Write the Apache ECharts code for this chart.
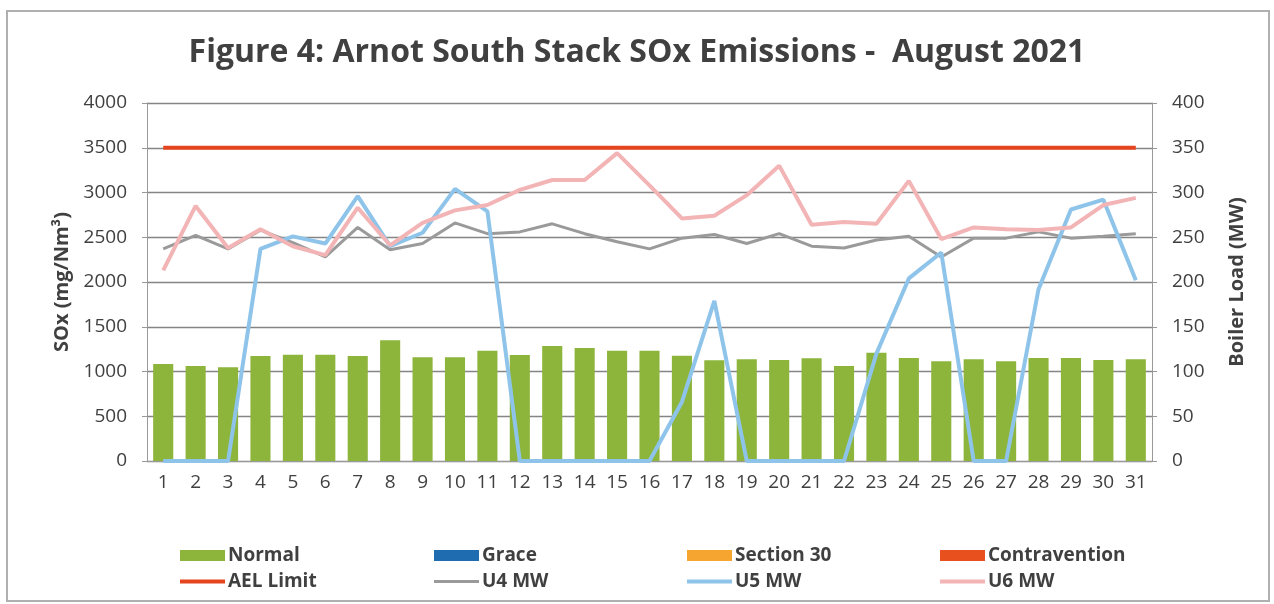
<!DOCTYPE html>
<html>
<head>
<meta charset="utf-8">
<script src="https://cdn.jsdelivr.net/npm/echarts@6/dist/echarts.min.js"></script>
<style>
  html, body { margin: 0; padding: 0; background: #fff; }
  #main { width: 1274px; height: 604px; }
</style>
</head>
<body>
<div id="main"></div>
<script>
var days = [];
for (var d = 1; d <= 31; d++) days.push(String(d));

// SOx (mg/Nm3), left axis
var normal = [1084, 1061, 1047, 1173, 1188, 1188, 1173, 1348, 1158, 1158, 1233, 1184, 1285, 1263, 1233,
              1233, 1177, 1125, 1136, 1129, 1147, 1061, 1210, 1151, 1114, 1136, 1114, 1151, 1151, 1129, 1136];
var grace = [];
var section30 = [];
var contravention = [];
var aelLimit = [3500, 3500, 3500, 3500, 3500, 3500, 3500, 3500, 3500, 3500, 3500, 3500, 3500, 3500, 3500,
                3500, 3500, 3500, 3500, 3500, 3500, 3500, 3500, 3500, 3500, 3500, 3500, 3500, 3500, 3500, 3500];

// boiler load (MW), right axis
var u4 = [237, 252, 237, 258, 244, 228, 261, 236, 243, 266, 254, 256, 265, 254, 245,
          237, 249, 253, 243, 254, 240, 238, 247, 251, 228, 249, 249, 256, 249, 251, 254];
var u5 = [0, 0, 0, 237, 251, 243, 296, 240, 255, 304, 279, 0, 0, 0, 0,
          0, 66, 179, 0, 0, 0, 0, 120, 204, 233, 0, 0, 192, 281, 292, 202];
var u6 = [213, 285, 238, 259, 240, 230, 283, 241, 266, 280, 286, 303, 314, 314, 344,
          308, 271, 274, 297, 330, 264, 267, 265, 313, 248, 261, 259, 258, 261, 286, 294];

var txt = '#404040';
var font = 'Open Sans';

var chart = echarts.init(document.getElementById('main'));

var lineIcon = 'path://M0,3.5 L45,3.5 L45,7.5 L0,7.5 Z';
var thinIcon = 'path://M0,4 L45,4 L45,7 L0,7 Z';

function legendCol(left, names) {
  return {
    orient: 'vertical',
    left: left,
    top: 541,
    itemWidth: 45,
    itemHeight: 11,
    itemGap: 7,
    textStyle: { color: txt, fontFamily: font, fontWeight: 'bold', fontSize: 19, padding: [0, 0, 0, -2] },
    data: names
  };
}

function plain(v) { return String(v); }

var option = {
  animation: false,
  backgroundColor: '#fff',
  title: {
    text: 'Figure 4: Arnot South Stack SOx Emissions -  August 2021',
    left: 'center',
    top: 32,
    textStyle: { color: txt, fontFamily: font, fontWeight: 'bold', fontSize: 32 }
  },
  graphic: [{
    type: 'rect',
    shape: { x: 7, y: 11, width: 1262, height: 590 },
    style: { fill: 'none', stroke: '#b0b0b0', lineWidth: 2 },
    silent: true
  }],
  legend: [
    legendCol(175, [{ name: 'Normal', icon: 'rect' }, { name: 'AEL Limit', icon: lineIcon }]),
    legendCol(429, [{ name: 'Grace', icon: 'rect' }, { name: 'U4 MW', icon: thinIcon }]),
    legendCol(682, [{ name: 'Section 30', icon: 'rect' }, { name: 'U5 MW', icon: lineIcon }]),
    legendCol(935, [{ name: 'Contravention', icon: 'rect' }, { name: 'U6 MW', icon: lineIcon }])
  ],
  grid: { left: 147, right: 122, top: 103, bottom: 143 },
  xAxis: {
    type: 'category',
    data: days,
    axisLine: { lineStyle: { color: '#999' } },
    axisTick: { show: false },
    axisLabel: { color: txt, fontFamily: font, fontSize: 19, margin: 12 }
  },
  yAxis: [{
    type: 'value',
    min: 0, max: 4000, interval: 500,
    name: 'SOx (mg/Nm³)',
    nameLocation: 'middle',
    nameGap: 30,
    nameTextStyle: { color: txt, fontFamily: font, fontWeight: 'bold', fontSize: 20 },
    axisLine: { show: true, lineStyle: { color: '#999' } },
    axisTick: { show: true, length: 5, lineStyle: { color: '#999' } },
    axisLabel: { color: txt, fontFamily: font, fontSize: 19, margin: 20, formatter: plain },
    splitLine: { lineStyle: { color: '#858585', width: 1.3 } }
  }, {
    type: 'value',
    min: 0, max: 400, interval: 50,
    name: 'Boiler Load (MW)',
    nameLocation: 'middle',
    nameGap: 75,
    nameRotate: 90,
    nameTextStyle: { color: txt, fontFamily: font, fontWeight: 'bold', fontSize: 20 },
    axisLine: { show: true, lineStyle: { color: '#999' } },
    axisTick: { show: true, length: 5, lineStyle: { color: '#999' } },
    axisLabel: { color: txt, fontFamily: font, fontSize: 19, margin: 20, formatter: plain },
    splitLine: { show: false }
  }],
  series: [
    { name: 'Normal', type: 'bar', stack: 'sox', data: normal, barCategoryGap: '38%', itemStyle: { color: '#8db53c' } },
    { name: 'Grace', type: 'bar', stack: 'sox', data: grace, itemStyle: { color: '#1f6cb0' } },
    { name: 'Section 30', type: 'bar', stack: 'sox', data: section30, itemStyle: { color: '#f7a531' } },
    { name: 'Contravention', type: 'bar', stack: 'sox', data: contravention, itemStyle: { color: '#e8501e' } },
    { name: 'U4 MW', type: 'line', yAxisIndex: 1, data: u4, symbol: 'none',
      lineStyle: { color: '#9a9a9a', width: 3 }, itemStyle: { color: '#9a9a9a' } },
    { name: 'U5 MW', type: 'line', yAxisIndex: 1, data: u5, symbol: 'none',
      lineStyle: { color: '#8fc4ea', width: 4 }, itemStyle: { color: '#8fc4ea' } },
    { name: 'U6 MW', type: 'line', yAxisIndex: 1, data: u6, symbol: 'none',
      lineStyle: { color: '#f3b4b6', width: 4 }, itemStyle: { color: '#f3b4b6' } },
    { name: 'AEL Limit', type: 'line', data: aelLimit, symbol: 'none', z: 5,
      lineStyle: { color: '#e4451f', width: 4 }, itemStyle: { color: '#e4451f' } }
  ]
};

chart.setOption(option);
</script>
</body>
</html>
